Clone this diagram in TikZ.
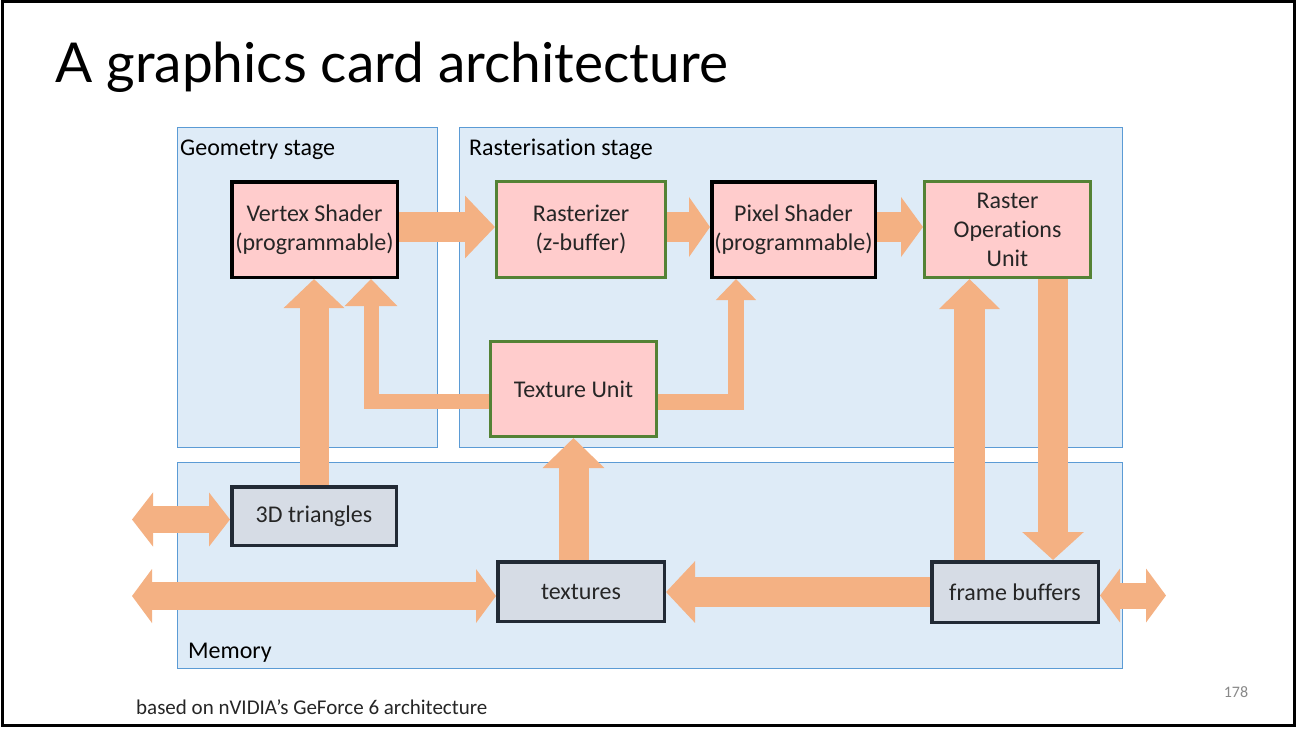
\documentclass[tikz,border=0pt]{standalone}
\usepackage{fontspec}
\setmainfont{Carlito}[Ligatures=NoCommon]
\newfontfamily\titlefont{Lato}[Ligatures=NoCommon]
\usetikzlibrary{arrows.meta}

\definecolor{regionfill}{HTML}{DEEBF7}
\definecolor{regionline}{HTML}{5B9BD5}
\definecolor{unitfill}{HTML}{FFCCCC}
\definecolor{unitgreen}{HTML}{548235}
\definecolor{memfill}{HTML}{D6DCE5}
\definecolor{memline}{HTML}{222A35}
\definecolor{flow}{HTML}{F4B183}
\definecolor{textdark}{HTML}{262626}
\definecolor{pagegray}{HTML}{898989}

\begin{document}
\begin{tikzpicture}[x=1pt,y=-1pt,
  region/.style={rectangle, fill=regionfill, draw=regionline, line width=1pt,
                 inner sep=0pt, outer sep=0pt, anchor=north west},
  regionlabel/.style={anchor=base west, inner sep=0pt, font=\fontsize{24}{29}\selectfont},
  box/.style={rectangle, inner sep=0pt, align=center, text=textdark,
              font=\fontsize{24}{29}\selectfont},
  shaderbox/.style={box, fill=unitfill, draw=black, line width=3.5pt},
  unitbox/.style={box, fill=unitfill, draw=unitgreen, line width=3pt},
  membox/.style={box, fill=memfill, draw=memline, line width=3.5pt},
  flowarrow/.style n args={3}{draw=flow, line width=#1,
                 -{Triangle[width=#2, length=#3]}},
  flowboth/.style n args={3}{draw=flow, line width=#1,
                 {Triangle[width=#2, length=#3]}-{Triangle[width=#2, length=#3]}}
]
% slide background and frame
\fill[white] (0,0) rectangle (1298,732);
\useasboundingbox (0,0) rectangle (1298,732);
\draw[line width=3pt] (2.5,1.5) rectangle (1294.5,725.5);

% title
\node[anchor=base west, inner sep=0pt, font=\titlefont\fontsize{55}{66}\selectfont]
  (title) at (55,82) {A graphics card architecture};

% stage regions
\node[region, minimum width=260pt, minimum height=320pt] (geo) at (177,127) {};
\node[region, minimum width=663pt, minimum height=320pt] (ras) at (459,127) {};
\node[region, minimum width=945pt, minimum height=206pt] (mem) at (177,462) {};
\node[regionlabel] (geolabel) at (180,155) {Geometry stage};
\node[regionlabel] (raslabel) at (469,155) {Rasterisation stage};
\node[regionlabel] (memlabel) at (188,658) {Memory};

% processing units
\node[shaderbox, minimum width=165.5pt, minimum height=95.5pt] (vs) at (314.5,229.5)
  {Vertex Shader\\(programmable)};
\node[unitbox, minimum width=169pt, minimum height=96pt] (rast) at (581,229.5)
  {Rasterizer\\(z-buffer)};
\node[shaderbox, minimum width=163.5pt, minimum height=95.5pt] (ps) at (793.5,229.5)
  {Pixel Shader\\(programmable)};
\node[unitbox, minimum width=166pt, minimum height=96pt] (rop) at (1007.5,229.5)
  {Raster\\Operations\\Unit};
\node[unitbox, minimum width=166pt, minimum height=95pt] (tu) at (573.5,389)
  {Texture Unit};

% memory contents
\node[membox, minimum width=164.5pt, minimum height=58.5pt] (tri) at (314,516)
  {3D triangles};
\node[membox, minimum width=166.5pt, minimum height=59.5pt] (tex) at (581,591.5)
  {textures};
\node[membox, minimum width=166.5pt, minimum height=60.5pt] (fb) at (1015,592)
  {frame buffers};

% data flow
\draw[flowarrow={30pt}{61pt}{30pt}] ([yshift=2.5pt]vs.east) -- ([yshift=2.5pt]rast.west);
\draw[flowarrow={30pt}{59pt}{21pt}] ([yshift=2.5pt]rast.east) -- ([yshift=2.5pt]ps.west);
\draw[flowarrow={30pt}{59pt}{22pt}] ([yshift=2.5pt]ps.east) -- ([yshift=2.5pt]rop.west);

\draw[flowarrow={15pt}{51pt}{27pt}] ([yshift=-12.5pt]tu.west) -| ([xshift=56.5pt]vs.south);
\draw[flowarrow={16pt}{39pt}{21pt}] ([yshift=-12.5pt]tu.east) -| ([xshift=-57.5pt]ps.south);

\draw[flowarrow={29pt}{59pt}{29pt}] (tri.north) -- (tri.north |- vs.south);
\draw[flowarrow={30pt}{60pt}{30pt}] (tex.north -| tu.south) -- (tu.south);

\draw[flowarrow={31pt}{59pt}{30pt}] ([xshift=-45.5pt]fb.north) -- ([xshift=-38pt]rop.south);
\draw[flowarrow={30pt}{60pt}{28pt}] ([xshift=45.5pt]rop.south) -- ([xshift=38pt]fb.north);
\draw[flowarrow={30pt}{60pt}{29pt}] (fb.west) -- (tex.east |- fb.west);

\coordinate (triext) at (132,519.5);
\coordinate (texext) at (132,596);
\coordinate (fbext) at (1166,595.5);
\draw[flowboth={27pt}{53pt}{21pt}] (triext) -- (tri.west |- triext);
\draw[flowboth={28pt}{53pt}{20pt}] (texext) -- (tex.west |- texext);
\draw[flowboth={26pt}{53pt}{20pt}] (fb.east |- fbext) -- (fbext);

% footer
\node[anchor=base west, inner sep=0pt, text=textdark, font=\fontsize{21}{25}\selectfont]
  (note) at (136,714) {based on nVIDIA’s GeForce 6 architecture};
\node[anchor=base, inner sep=0pt, text=pagegray, font=\fontsize{16}{19}\selectfont]
  (pageno) at (1236,697) {178};
\end{tikzpicture}
\end{document}
